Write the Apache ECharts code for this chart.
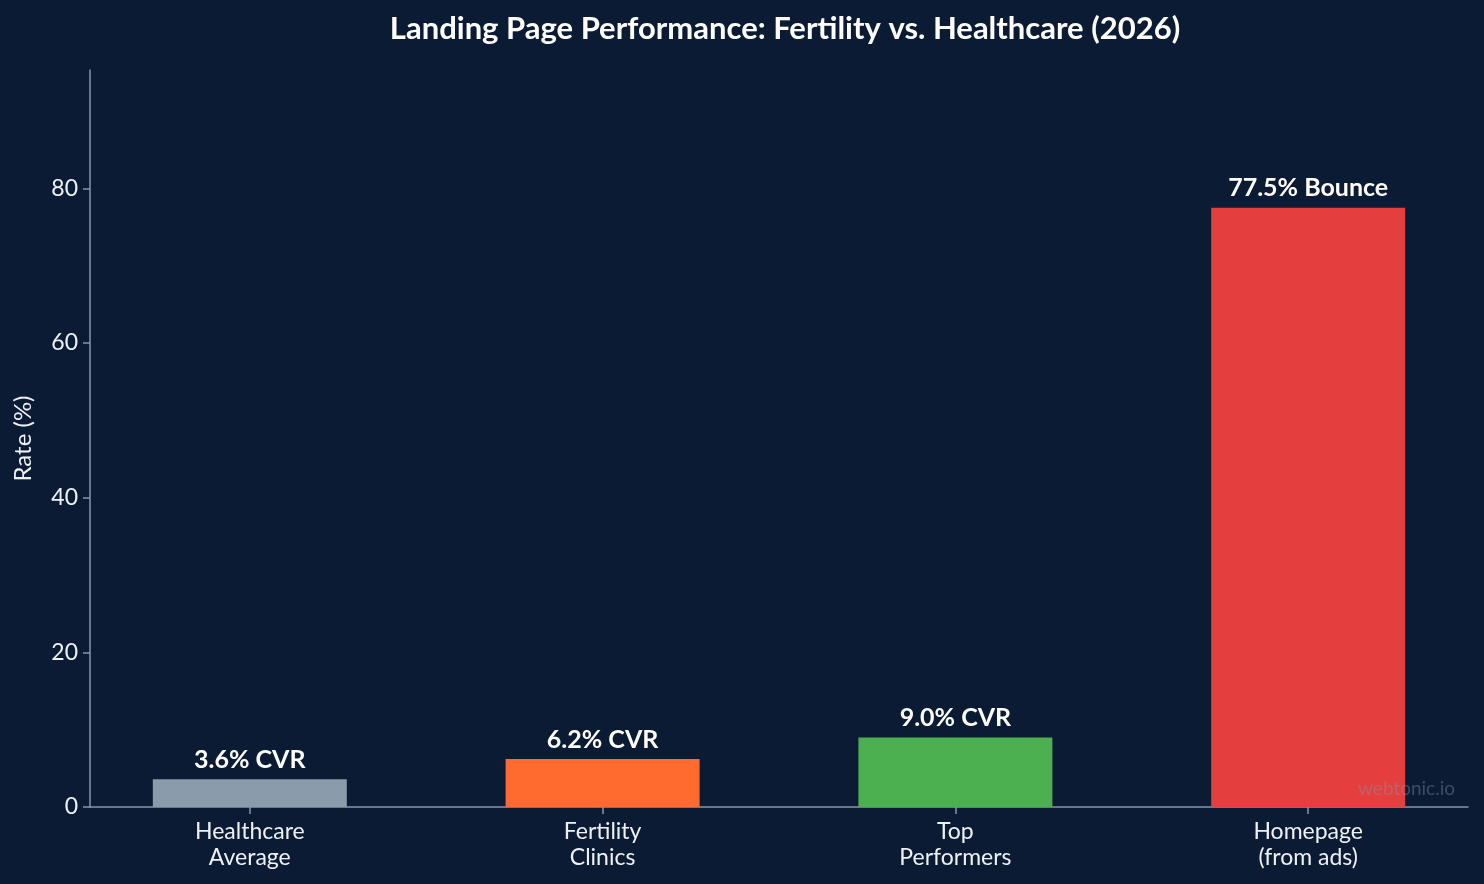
<!DOCTYPE html>
<html>
<head>
<meta charset="utf-8">
<script src="https://cdn.jsdelivr.net/npm/echarts@6/dist/echarts.min.js"></script>
<style>
  html, body { margin: 0; padding: 0; background: #0b1b34; }
  #chart { width: 1484px; height: 884px; }
</style>
</head>
<body>
<div id="chart"></div>
<script>
// data
const categories = ['Healthcare\nAverage', 'Fertility\nClinics', 'Top\nPerformers', 'Homepage\n(from ads)'];
const values = [3.6, 6.2, 9.0, 77.5];
const barLabels = ['3.6% CVR', '6.2% CVR', '9.0% CVR', '77.5% Bounce'];
const barColors = ['#8a9bab', '#ff6b2f', '#4caf50', '#e53e3e'];
const yTicks = [0, 20, 40, 60, 80];

const axisColor = '#8896a8';
const textColor = '#eef1f5';

let chart = echarts.init(document.getElementById('chart'));
chart.setOption({
  backgroundColor: '#0b1b34',
  textStyle: { fontFamily: 'Lato' },
  title: {
    text: 'Landing Page Performance: Fertility vs. Healthcare (2026)',
    left: 780, top: 8, textAlign: 'center',
    textStyle: { color: '#ffffff', fontSize: 31, fontWeight: 'bold', fontFamily: 'Lato' }
  },
  grid: { left: 90, right: 16, top: 70, bottom: 77, containLabel: false, outerBoundsMode: 'none' },
  xAxis: {
    type: 'value',
    min: -0.453, max: 3.453,
    splitLine: { show: false },
    axisLine: { show: true, lineStyle: { color: axisColor, width: 1.5 } },
    axisTick: { show: true, customValues: [0, 1, 2, 3], length: 7, lineStyle: { color: axisColor, width: 1.5 } },
    axisLabel: {
      customValues: [0, 1, 2, 3],
      color: textColor, fontSize: 23, lineHeight: 26, margin: 12, fontFamily: 'Lato',
      formatter: v => categories[Math.round(v)]
    }
  },
  yAxis: {
    type: 'value',
    min: 0, max: 95.3, interval: 20,
    name: 'Rate (%)', nameLocation: 'middle', nameGap: 55, nameRotate: 90,
    nameTextStyle: { color: textColor, fontSize: 24, fontFamily: 'Lato' },
    splitLine: { show: false },
    axisLine: { show: true, onZero: false, lineStyle: { color: axisColor, width: 1.5 } },
    axisTick: { show: true, length: 7, customValues: yTicks, lineStyle: { color: axisColor, width: 1.5 } },
    axisLabel: {
      customValues: yTicks,
      color: textColor, fontSize: 23, margin: 12, fontFamily: 'Lato'
    }
  },
  graphic: [{
    type: 'text', right: 29, top: 779, z: 100,
    style: { text: 'webtonic.io', fill: 'rgba(136,150,168,0.4)', fontSize: 19, fontFamily: 'Lato' }
  }],
  series: [{
    type: 'bar',
    barWidth: 194,
    data: values.map((v, i) => ({
      value: [i, v],
      itemStyle: { color: barColors[i] },
      label: { formatter: barLabels[i] }
    })),
    label: {
      show: true, position: 'top', distance: 7,
      color: '#ffffff', fontSize: 25, fontWeight: 'bold', fontFamily: 'Lato'
    },
    silent: true
  }]
});
</script>
</body>
</html>
